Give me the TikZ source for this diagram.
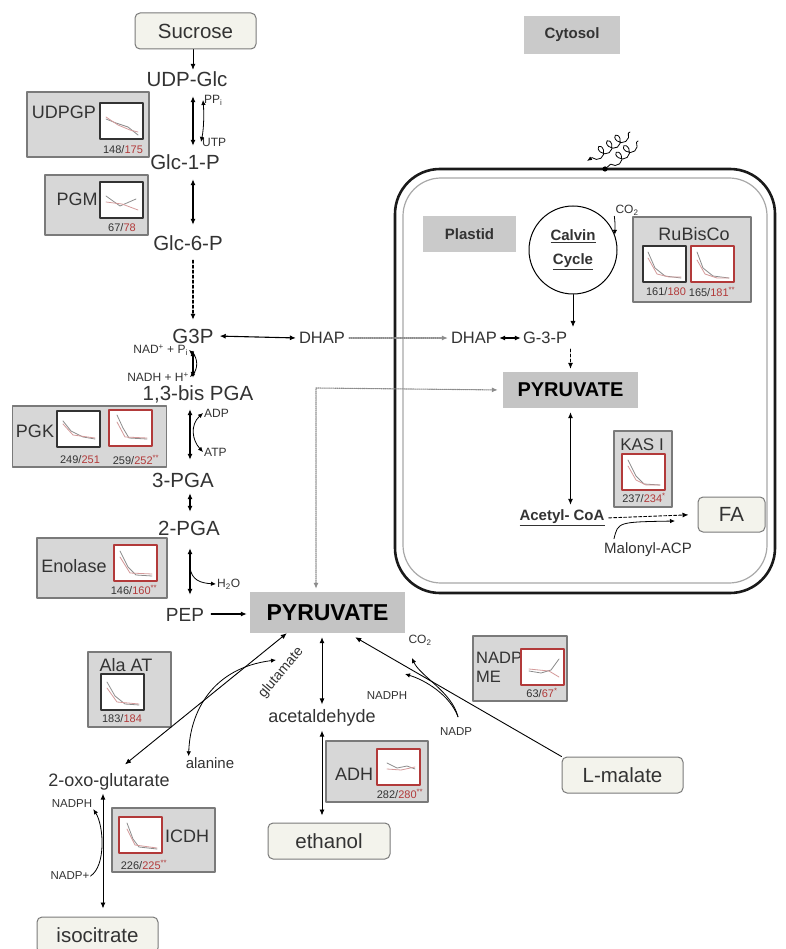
\documentclass[tikz,border=0pt]{standalone}
\usepackage{fontspec}
\setmainfont{Liberation Sans}
\usetikzlibrary{arrows.meta,calc,positioning,decorations.pathmorphing}
\definecolor{pwInk}{HTML}{333333}
\definecolor{pwEnz}{HTML}{D7D7D7}
\definecolor{pwEnzLine}{HTML}{7A7A7A}
\definecolor{pwHub}{HTML}{C4C4C4}
\definecolor{pwPool}{HTML}{F3F3EC}
\definecolor{pwRed}{HTML}{B23A3A}
\definecolor{pwTrace}{HTML}{8C8C8C}
\definecolor{pwPink}{HTML}{D49A9A}
\definecolor{pwMem}{HTML}{1A1A1A}
\definecolor{pwMemIn}{HTML}{A8A8A8}
\tikzset{
 pathway/.style={x=1pt,y=-1pt,line cap=round,line join=round,text=pwInk},
 metab/.style={font=\fontsize{20.5}{24}\selectfont,inner xsep=2pt,inner ysep=1pt,text height=15pt,text depth=1pt},
 shuttleName/.style={font=\fontsize{16.5}{19}\selectfont,inner sep=1pt},
 minor/.style={font=\fontsize{18}{21}\selectfont,inner sep=1pt},
 small/.style={font=\fontsize{15}{18}\selectfont,inner sep=1pt},
 cofac/.style={font=\fontsize{12}{14}\selectfont,inner sep=1pt},
 pool/.style={draw=pwEnzLine,fill=pwPool,rounded corners=5pt,line width=1pt,font=\fontsize{20.5}{24}\selectfont},
 hub/.style={fill=pwHub,font=\fontsize{23}{26}\selectfont\bfseries,text=black},
 tag/.style={fill=pwHub!90,font=\fontsize{15}{18}\selectfont\bfseries},
 enzyme/.style={draw=pwEnzLine,fill=pwEnz,line width=1.2pt,inner sep=0pt},
 enzname/.style={font=\fontsize{18}{21}\selectfont,inner sep=0pt},
 count/.style={font=\fontsize{11}{13}\selectfont,inner sep=0pt},
 frameK/.style={draw=pwInk,line width=1.1pt,fill=white},
 frameR/.style={draw=pwRed,line width=1.6pt,fill=white},
 trace/.style={draw=pwTrace,line width=.8pt},
 rxn/.style={draw=black,line width=1.1pt,>={Latex[length=6pt,width=5pt]},<->},
 fwd/.style={draw=black,line width=1.1pt,>={Latex[length=6pt,width=5pt]},->},
 colrxn/.style={rxn,shorten <=7pt,shorten >=8pt},
 side/.style={draw=black,line width=.8pt,>={Latex[length=5pt,width=4.5pt]},->},
 sidetwo/.style={draw=black,line width=.8pt,>={Latex[length=5pt,width=4.5pt]},<->},
 shuttle/.style={draw=pwTrace,line width=1.1pt,densely dotted,>={Latex[length=6pt,width=5pt]}},
 envOuter/.style={draw=pwMem,line width=2.6pt,rounded corners=45pt},
 envInner/.style={draw=pwMemIn,line width=1.2pt,rounded corners=38pt},
 photon/.style={draw=black,line width=.8pt,decorate,
   decoration={coil,aspect=.8,segment length=10pt,amplitude=5.5pt,pre length=2pt,post length=5pt}}
}
\newcommand{\miniChart}[4]{%
 \begin{scope}[shift={(#1)}]
 \draw[#2] (0,0) rectangle (43,36);
 \draw[trace] plot coordinates {#3};
 \draw[trace,draw=pwPink] plot coordinates {#4};
 \end{scope}}

\begin{document}
\begin{tikzpicture}[pathway]
 \useasboundingbox[fill=white] (0,0) rectangle (785,949);
 % plastid envelope
 \draw[envOuter] (395,169) rectangle (775,593);
 \draw[envInner] (403,178) rectangle (767,583);
 \node[tag,minimum width=96pt,minimum height=38pt] (cytosolTag) at (572,35) {Cytosol};
 \node[tag,minimum width=93pt,minimum height=36pt] (plastidTag) at (469.5,234) {Plastid};

 % glycolysis column
 \coordinate (colA) at (193,0); \coordinate (colB) at (190,0);
 \node[pool,minimum width=121pt,minimum height=36pt] (sucrose) at (195.5,31) {Sucrose};
 \node[metab] (udpglc) at (187,80) {UDP-Glc};
 \node[metab] (glc1p) at (185,163) {Glc-1-P};
 \node[metab] (glc6p) at (188,244) {Glc-6-P};
 \node[metab] (g3p) at (193,336) {G3P};
 \node[metab] (bispga) at (198,393) {1,3-bis PGA};
 \node[metab] (pga3) at (183,480) {3-PGA};
 \node[metab] (pga2) at (189,528) {2-PGA};
 \node[metab,font=\fontsize{19}{22}\selectfont] (pep) at (185,614) {PEP};
 \node[hub,minimum width=155pt,minimum height=41pt] (pyrC) at (327.5,612.5) {PYRUVATE};

 \draw[fwd,line width=.8pt,shorten >=1pt] (sucrose.south -| colA) -- (udpglc.north -| colA);
 \draw[colrxn] (udpglc.south -| colA) -- (glc1p.north -| colA);
 \draw[colrxn,shorten >=10pt] (glc1p.south -| colA) -- (glc6p.north -| colA);
 \draw[fwd,densely dashed,shorten <=7pt,shorten >=7pt] (glc6p.south -| colA) -- (g3p.north -| colA);
 \draw[colrxn,shorten <=5pt,shorten >=6pt] (g3p.south -| colA) -- (bispga.north -| colA);
 \draw[colrxn,shorten >=11pt] (bispga.south -| colB) -- (pga3.north -| colB);
 \draw[colrxn,shorten <=4pt,shorten >=7pt] (pga3.south -| colB) -- (pga2.north -| colB);
 \draw[colrxn,shorten <=11pt,shorten >=10pt] (pga2.south -| colB) -- (pep.north -| colB);
 \draw[fwd,shorten <=5pt,shorten >=3pt] (pep.east) -- (pyrC.west |- pep.east);

 \node[cofac,anchor=west] (ppi) at (203,100) {PP\textsubscript{i}};
 \node[cofac,anchor=west] (utp) at (201,142) {UTP};
 \draw[sidetwo] (ppi.west) .. controls (204,112) and (204,128) .. (utp.west);
 \node[cofac,anchor=east] (nadox) at (189,350) {NAD\textsuperscript{+} + P\textsubscript{i}};
 \node[cofac,anchor=east] (nadred) at (190,377) {NADH + H\textsuperscript{+}};
 \draw[sidetwo] (nadox.east) .. controls (198,358) and (198,369) .. (nadred.east);
 \node[cofac,anchor=west] (adp) at (203,413) {ADP};
 \node[cofac,anchor=west] (atp) at (203,452) {ATP};
 \draw[sidetwo] (adp.west) .. controls (190,425) and (192,440) .. (atp.west);
 \node[cofac,anchor=west] (water) at (216,584) {H\textsubscript{2}O};
 \coordinate (enoFork) at (190,568);
 \draw[side] (enoFork) .. controls (192,580) and (200,583) .. (water.west);

 % triose shuttle
 \node[shuttleName] (dhapC) at (322,338) {DHAP};
 \node[shuttleName] (dhapP) at (474,338) {DHAP};
 \node[shuttleName] (g3pP) at (545,338) {G-3-P};
 \draw[rxn,shorten <=4pt,shorten >=2pt] (g3p.east) -- (dhapC.west);
 \draw[shuttle,->,shorten <=3pt,shorten >=2pt] (dhapC.east) -- (dhapP.west);
 \draw[rxn,shorten <=1pt,shorten >=1pt] (dhapP.east) -- (g3pP.west);

 % plastid
 \node[circle,draw,line width=1pt,minimum size=88pt,inner sep=0pt,align=center,
   font=\fontsize{15}{18}\selectfont\bfseries] (calvin) at (573,250) {\underline{Calvin}\\[6pt]\underline{Cycle}};
 \node[cofac] (co2calvin) at (627,210) {CO\textsubscript{2}};
 \draw[side] (co2calvin.south west) .. controls (615,222) .. (calvin.20);
 \node[hub,font=\fontsize{20}{24}\selectfont\bfseries,minimum width=135pt,minimum height=36pt] (pyrP) at (570.5,390) {PYRUVATE};
 \draw[fwd,line width=.8pt,shorten >=4pt] (calvin.south) -- (calvin.south |- g3pP.north);
 \draw[fwd,line width=.8pt,densely dashed,shorten <=4pt,shorten >=3pt] (pyrP.north |- g3pP.south) -- (pyrP.north);
 \coordinate (dotCorner) at (316,388);
 \draw[shuttle,<->,shorten <=3pt,shorten >=5pt] (pyrC.north -| dotCorner) -- (dotCorner) -- (pyrP.west);

 \coordinate (photonA) at (630,132); \coordinate (photonAend) at (587,161);
 \coordinate (photonB) at (638,141); \coordinate (photonBend) at (605,169);
 \draw[photon,->,>={Latex[length=5pt,width=4pt]}] (photonA) -- (photonAend);
 \draw[photon] (photonB) -- (photonBend);
 \fill (photonBend) circle (2.6pt);

 \node[small,font=\fontsize{15}{18}\selectfont\bfseries] (acetyl) at (562,518) {\underline{Acetyl- CoA}};
 \node[pool,minimum width=67pt,minimum height=35pt] (fa) at (731.5,514.5) {FA};
 \node[small] (malonyl) at (648,550) {Malonyl-ACP};
 \draw[rxn,line width=.9pt,shorten <=4pt,shorten >=4pt] (pyrP.south) -- (pyrP.south |- acetyl.north);
 \draw[fwd,line width=.9pt,densely dashed,shorten <=3pt,shorten >=9pt] (acetyl.east) -- (fa.west);
 \coordinate (kasTip) at (675,521);
 \draw[side] ([xshift=-34pt,yshift=3pt]malonyl.north) .. controls (618,522) .. (kasTip);

 % RuBisCo
 \node[enzyme,minimum width=118pt,minimum height=85pt] (rubisco) at (692,259.5) {};
 \node[enzname] (rubiscoName) at (694,234) {RuBisCo};
 \miniChart{643,246}{frameK}{(5,6) (12,22) (22,30) (38,32)}{(5,12) (14,28) (26,31) (38,31)}
 \miniChart{691,246}{frameR}{(6,6) (12,22) (22,30) (38,32)}{(6,14) (14,28) (26,32) (38,32)}
 \node[count] (rubiscoNumA) at (666,292) {161/\textcolor{pwRed}{180}};
 \node[count] (rubiscoNumB) at (712,292) {165/\textcolor{pwRed}{181\textsuperscript{**}}};
 % KAS I
 \node[enzyme,minimum width=58pt,minimum height=76pt] (kas) at (643,469) {};
 \node[enzname,font=\fontsize{17}{20}\selectfont] (kasName) at (642,445) {KAS I};
 \miniChart{622,454}{frameR}{(6,6) (14,22) (22,30) (38,31)}{(6,12) (14,26) (24,31) (38,31)}
 \node[count] (kasNum) at (644,498) {237/\textcolor{pwRed}{234\textsuperscript{*}}};

 % enzymes of the cytosol
 \node[enzyme,minimum width=122pt,minimum height=65pt] (udpgp) at (88,124.5) {};
 \node[enzname] (udpgpName) at (64,112) {UDPGP};
 \miniChart{100,103}{frameK}{(6,16) (16,20) (28,24) (38,32)}{(6,14) (18,22) (30,27) (38,29)}
 \node[count] (udpgpNum) at (123,150) {148/\textcolor{pwRed}{175}};

 \node[enzyme,minimum width=103pt,minimum height=60pt] (pgm) at (96.5,205) {};
 \node[enzname] (pgmName) at (77,199) {PGM};
 \miniChart{100,182}{frameK}{(6,14) (20,24) (36,17)}{(6,20) (22,22) (38,28)}
 \node[count] (pgmNum) at (122,228) {67/\textcolor{pwRed}{78}};

 \node[enzyme,minimum width=154pt,minimum height=61pt] (pgk) at (89.5,436.5) {};
 \node[enzname] (pgkName) at (35,431) {PGK};
 \miniChart{57,411}{frameK}{(6,10) (14,20) (26,26) (38,28)}{(6,13) (16,24) (38,27)}
 \miniChart{109,410}{frameR}{(8,5) (14,18) (20,28) (38,29)}{(8,12) (16,27) (38,28)}
 \node[count] (pgkNumA) at (80,460) {249/\textcolor{pwRed}{251}};
 \node[count] (pgkNumB) at (136,460) {259/\textcolor{pwRed}{252\textsuperscript{**}}};

 \node[enzyme,minimum width=130pt,minimum height=60pt] (enolase) at (102,568) {};
 \node[enzname] (enolaseName) at (74,566) {Enolase};
 \miniChart{114,545}{frameR}{(6,6) (14,22) (22,30) (38,31)}{(6,12) (16,28) (38,29)}
 \node[count] (enolaseNum) at (134,590) {146/\textcolor{pwRed}{160\textsuperscript{**}}};

 \node[enzyme,minimum width=83pt,minimum height=75pt] (alaat) at (129.5,689.5) {};
 \node[enzname] (alaatName) at (126,665) {Ala AT};
 \miniChart{101,674}{frameK}{(6,8) (14,22) (24,30) (38,31)}{(6,14) (16,28) (38,30)}
 \node[count] (alaatNum) at (122,719) {183/\textcolor{pwRed}{184}};

 \node[enzyme,minimum width=103pt,minimum height=64pt] (icdh) at (163.5,840) {};
 \node[enzname] (icdhName) at (187,836) {ICDH};
 \miniChart{119,817}{frameR}{(8,6) (14,22) (20,30) (38,32)}{(8,12) (16,28) (38,31)}
 \node[count] (icdhNum) at (144,865) {226/\textcolor{pwRed}{225\textsuperscript{**}}};

 \node[enzyme,minimum width=102pt,minimum height=61pt] (adh) at (377,771.5) {};
 \node[enzname] (adhName) at (354,774) {ADH};
 \miniChart{377,749}{frameR}{(10,14) (20,19) (30,17) (38,20)}{(10,20) (24,21) (38,18)}
 \node[count] (adhNum) at (400,794) {282/\textcolor{pwRed}{280\textsuperscript{**}}};

 \node[enzyme,minimum width=94pt,minimum height=65pt] (nadpme) at (520,668.5) {};
 \node[enzname,font=\fontsize{16.5}{19}\selectfont,align=left,anchor=west] (nadpmeName) at (476,667) {NADP\\ME};
 \miniChart{521,649}{frameR}{(8,22) (20,24) (30,21) (38,10)}{(8,20) (28,22) (38,28)}
 \node[count] (nadpmeNum) at (542,693) {63/\textcolor{pwRed}{67\textsuperscript{*}}};

 % fermentation and side branches
 \node[minor] (acetald) at (322,718) {acetaldehyde};
 \node[pool,minimum width=122pt,minimum height=36pt] (ethanol) at (329,841) {ethanol};
 \draw[rxn,line width=.9pt,shorten <=4pt,shorten >=4pt] (pyrC.south -| acetald) -- (acetald.north);
 \draw[rxn,line width=.9pt,shorten <=3pt,shorten >=7pt] (acetald.south) -- (acetald.south |- ethanol.north);

 \node[minor] (oxoglu) at (109,782) {2-oxo-glutarate};
 \node[small] (alanine) at (210,763) {alanine};
 \node[small,font=\fontsize{14}{16}\selectfont,rotate=50] (glutamate) at (281,673) {glutamate};
 \node[pool,minimum width=121pt,minimum height=36pt] (isocit) at (97.5,935) {isocitrate};
 \draw[rxn,line width=.9pt] ([xshift=16pt,yshift=8pt]oxoglu.north) -- ([xshift=37pt]pyrC.south west);
 \coordinate (gluTip) at (276,660);
 \draw[sidetwo] ([xshift=4pt]alanine.north west) .. controls (190,712) and (212,668) .. (gluTip);
 \coordinate (tcaCol) at (103,0);
 \draw[rxn,line width=.9pt,shorten <=2pt,shorten >=8pt] (oxoglu.south -| tcaCol) -- (isocit.north -| tcaCol);
 \node[cofac,font=\fontsize{11.5}{14}\selectfont] (nadphL) at (72,804) {NADPH};
 \node[cofac,font=\fontsize{11.5}{14}\selectfont] (nadpL) at (70,876) {NADP+};
 \draw[side] (nadpL.east) .. controls (106,866) and (104,826) .. (nadphL.south east);

 \node[pool,minimum width=121pt,minimum height=36pt] (malate) at (622.5,775) {L-malate};
 \draw[fwd,line width=.9pt] (malate.north west) -- ([xshift=-50pt,yshift=-4pt]pyrC.south east);
 \node[cofac] (co2me) at (420,640) {CO\textsubscript{2}};
 \node[cofac,font=\fontsize{11.5}{14}\selectfont] (nadphR) at (387,696) {NADPH};
 \node[cofac,font=\fontsize{11.5}{14}\selectfont] (nadpR) at (456,732) {NADP};
 \coordinate (meCO2tip) at (412,658); \coordinate (meNADPHtip) at (405,674);
 \draw[side] ([xshift=2pt,yshift=10pt]nadpR.north) .. controls (452,692) and (420,676) .. (meCO2tip);
 \draw[side] ([xshift=2pt,yshift=10pt]nadpR.north) .. controls (450,695) and (425,680) .. (meNADPHtip);
\end{tikzpicture}
\end{document}
